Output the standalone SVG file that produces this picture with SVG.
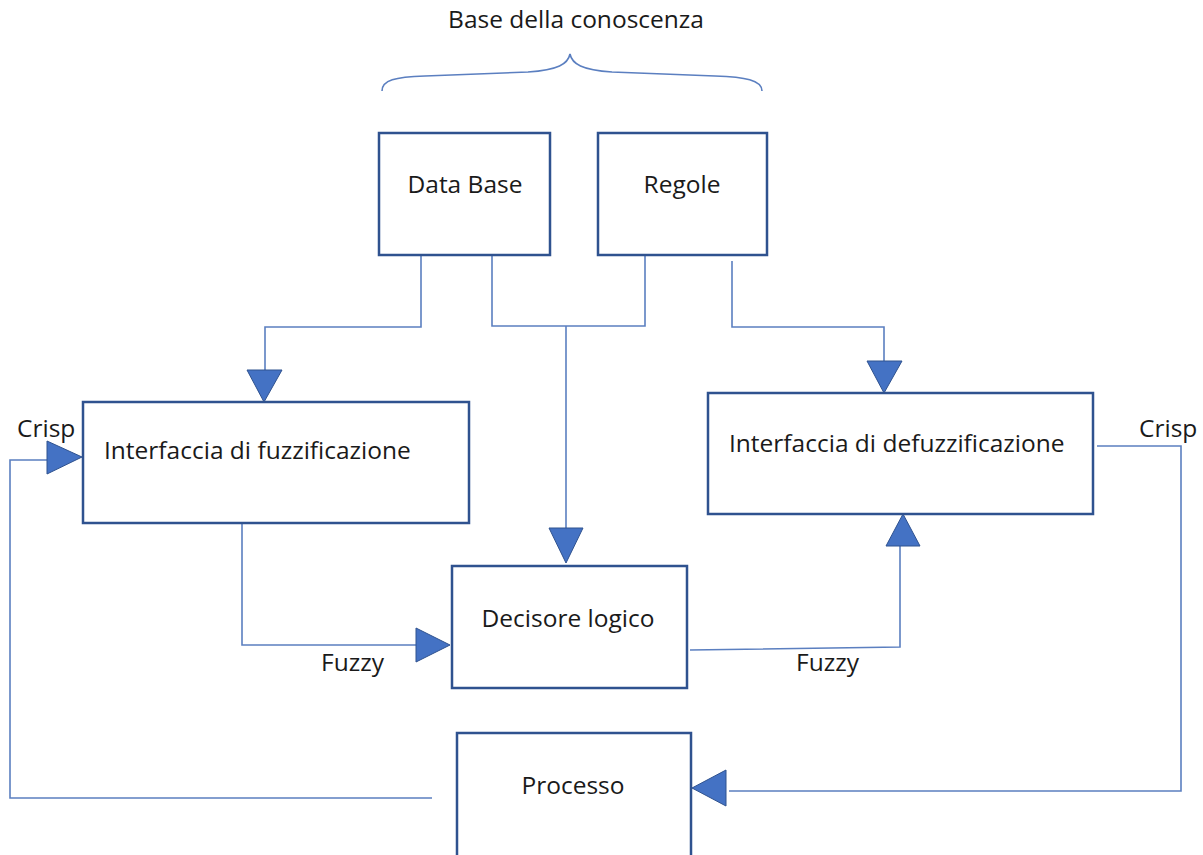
<svg xmlns="http://www.w3.org/2000/svg" width="1203" height="855" viewBox="0 0 1203 855">
  <style>
    .box { fill: #ffffff; stroke: #2f528f; stroke-width: 2.5; }
    .wire { fill: none; stroke: #5b7fc0; stroke-width: 1.6; }
    .head { fill: #4472c4; stroke: #2f528f; stroke-width: 1; stroke-linejoin: miter; }
    .lbl { font-family: "Open Sans", "Noto Sans", sans-serif; font-size: 24.5px; fill: #1a1a1a; }
    .mid { text-anchor: middle; }
  </style>

  <rect width="1203" height="855" fill="#ffffff"/>

  <!-- knowledge base heading and brace -->
  <g id="knowledge-base">
    <text class="lbl mid" x="576" y="28">Base della conoscenza</text>
    <path class="wire" d="M382,91 C382,80 395,77 425,76 L528,72 C558,70 568,64 570,54 C572,64 582,70 612,72 L715,76 C745,77 762,80 762,91"/>
  </g>

  <!-- connectors -->
  <g id="connectors">
    <!-- Data Base to fuzzification -->
    <polyline class="wire" points="421,255 421,327 265,327 265,370"/>
    <!-- Data Base + Regole to logic unit -->
    <polyline class="wire" points="492,255 492,326 645,326 645,255"/>
    <line class="wire" x1="566" y1="326" x2="566" y2="528"/>
    <!-- Regole to defuzzification -->
    <polyline class="wire" points="732,261 732,327 884,327 884,361"/>
    <!-- fuzzification to logic unit -->
    <polyline class="wire" points="242,524 242,645 416,645"/>
    <!-- logic unit to defuzzification -->
    <polyline class="wire" points="690,650 900,647 900,546"/>
    <!-- defuzzification crisp output to process -->
    <polyline class="wire" points="1097,446 1181,446 1181,791 729,791"/>
    <!-- process feedback to fuzzification -->
    <polyline class="wire" points="432,798 10,798 10,460 47,460"/>

    <!-- arrowheads -->
    <polygon class="head" points="247,370 282,370 264,402"/>
    <polygon class="head" points="867,361 902,361 884,393"/>
    <polygon class="head" points="549,528 583,528 566,563"/>
    <polygon class="head" points="416,628 416,662 450,645"/>
    <polygon class="head" points="886,546 920,546 903,514"/>
    <polygon class="head" points="47,441 47,474 82,457"/>
    <polygon class="head" points="726,770 726,806 692,788"/>
  </g>

  <!-- connector labels -->
  <g id="labels">
    <text class="lbl" x="17" y="437">Crisp</text>
    <text class="lbl" x="1139" y="437">Crisp</text>
    <text class="lbl" x="321" y="671">Fuzzy</text>
    <text class="lbl" x="796" y="671">Fuzzy</text>
  </g>

  <g id="node-database">
    <rect class="box" x="379" y="133" width="171" height="122"/>
    <text class="lbl mid" x="465" y="193">Data Base</text>
  </g>

  <g id="node-regole">
    <rect class="box" x="598" y="133" width="169" height="122"/>
    <text class="lbl mid" x="682" y="193">Regole</text>
  </g>

  <g id="node-fuzzificazione">
    <rect class="box" x="83" y="402" width="386" height="121"/>
    <text class="lbl" x="104" y="459">Interfaccia di fuzzificazione</text>
  </g>

  <g id="node-defuzzificazione">
    <rect class="box" x="708" y="393" width="385" height="121"/>
    <text class="lbl" x="729" y="452">Interfaccia di defuzzificazione</text>
  </g>

  <g id="node-decisore">
    <rect class="box" x="452" y="566" width="235" height="122"/>
    <text class="lbl mid" x="568" y="627">Decisore logico</text>
  </g>

  <g id="node-processo">
    <rect class="box" x="457" y="733" width="234" height="130"/>
    <text class="lbl mid" x="573" y="794">Processo</text>
  </g>
</svg>
